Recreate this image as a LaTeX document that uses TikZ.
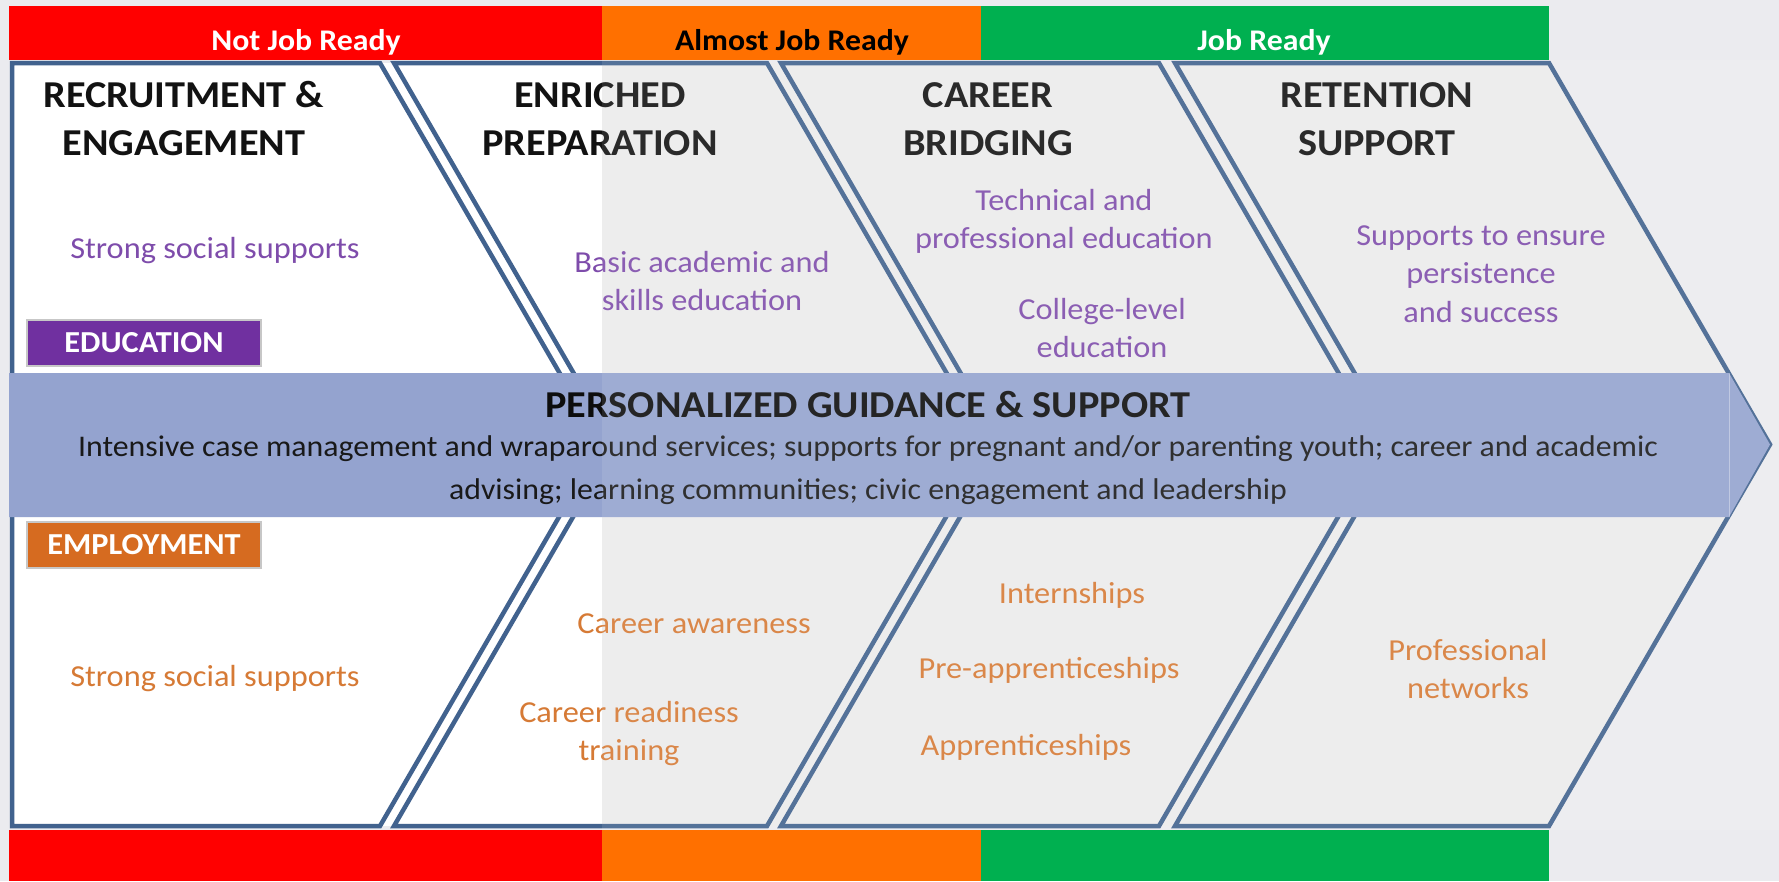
\documentclass[tikz,border=0pt]{standalone}
\usepackage{fontspec}
\setmainfont{Carlito}[FakeStretch=1.06]
\definecolor{chev}{HTML}{41628E}
\definecolor{barred}{HTML}{FF0000}
\definecolor{barorange}{HTML}{FF7000}
\definecolor{bargreen}{HTML}{00B050}
\definecolor{purpletxt}{HTML}{7E4CAB}
\definecolor{orangetxt}{HTML}{D67A35}
\definecolor{bandblue}{HTML}{94A3CF}
\definecolor{edufill}{HTML}{7030A0}
\definecolor{empfill}{HTML}{D66B20}
\definecolor{pagebg}{HTML}{EBEBEF}
\definecolor{chevbg}{HTML}{ECECEC}
\tikzset{
  chevline/.style={draw=chev, line width=4.5pt, line join=miter},
  bartxt/.style={anchor=base, font=\bfseries\fontsize{30}{36}\selectfont},
  headtxt/.style={anchor=base, text=black!93, font=\bfseries\fontsize{38}{48}\selectfont},
  edutxt/.style={anchor=base, text=purpletxt, font=\fontsize{30.5}{38}\selectfont},
  emptxt/.style={anchor=base, text=orangetxt, font=\fontsize{30.5}{38}\selectfont},
  bandtitle/.style={anchor=base, text=black!95, font=\bfseries\fontsize{38}{46}\selectfont},
  bandtxt/.style={anchor=base, text=black!90, font=\fontsize{30}{43}\selectfont},
  labbox/.style={draw=black!22, line width=1.5pt, text=white, inner sep=0pt,
    minimum width=234pt, minimum height=46pt, font=\bfseries\fontsize{30.5}{36}\selectfont}
}
\begin{document}
\begin{tikzpicture}[x=1pt,y=-1pt]
\useasboundingbox (0,0) rectangle (1779,881);
% page background
\fill[pagebg] (0,0) rectangle (1779,881);
% chevron area background
\fill[chevbg] (12,63) -- (1549,63) -- (1770,444.5) -- (1549,826) -- (12,826) -- cycle;
\fill[white] (12,63) rectangle (602,826);
% chevrons
\draw[chevline] (12,63) -- (380,63) -- (601,444.5) -- (380,826) -- (12,826) -- cycle;
\draw[chevline] (394,63) -- (767,63) -- (988,444.5) -- (767,826) -- (394,826) -- (615,444.5) -- cycle;
\draw[chevline] (781,63) -- (1159,63) -- (1380,444.5) -- (1159,826) -- (781,826) -- (1002,444.5) -- cycle;
\draw[chevline] (1175,63) -- (1549,63) -- (1770,444.5) -- (1549,826) -- (1175,826) -- (1396,444.5) -- cycle;
% band
\fill[bandblue] (9,373) -- (1729,373) -- (1770,444.5) -- (1729,517) -- (9,517) -- cycle;
\draw[white, opacity=0.35, line width=1pt] (1729,373) -- (1729,517);
% headings
\node[headtxt] (h1a) at (184,107) {RECRUITMENT \&};
\node[headtxt] (h1b) at (184,155) {ENGAGEMENT};
\node[headtxt] (h2a) at (600,107) {ENRICHED};
\node[headtxt] (h2b) at (600,155) {PREPARATION};
\node[headtxt] (h3a) at (988,107) {CAREER};
\node[headtxt] (h3b) at (988,155) {BRIDGING};
\node[headtxt] (h4a) at (1377,107) {RETENTION};
\node[headtxt] (h4b) at (1377,155) {SUPPORT};
% education texts
\node[edutxt] (e1) at (215,258) {Strong social supports};
\node[edutxt] (e2a) at (702,272) {Basic academic and};
\node[edutxt] (e2b) at (702,310) {skills education};
\node[edutxt] (e3a) at (1064,210) {Technical and};
\node[edutxt] (e3b) at (1064,248) {professional education};
\node[edutxt] (e3c) at (1102,319) {College-level};
\node[edutxt] (e3d) at (1102,357) {education};
\node[edutxt] (e4a) at (1481,245) {Supports to ensure};
\node[edutxt] (e4b) at (1481,283) {persistence};
\node[edutxt] (e4c) at (1481,322) {and success};
% employment texts
\node[emptxt] (m1) at (215,686) {Strong social supports};
\node[emptxt] (m2a) at (694,633) {Career awareness};
\node[emptxt] (m2b) at (629,722) {Career readiness};
\node[emptxt] (m2c) at (629,760) {training};
\node[emptxt] (m3a) at (1072,603) {Internships};
\node[emptxt] (m3b) at (1049,678) {Pre-apprenticeships};
\node[emptxt] (m3c) at (1026,755) {Apprenticeships};
\node[emptxt] (m4a) at (1468,660) {Professional};
\node[emptxt] (m4b) at (1468,698) {networks};
% label boxes
\node[labbox, fill=edufill] (edu) at (144,343) {EDUCATION};
\node[labbox, fill=empfill] (emp) at (144,545) {EMPLOYMENT};
% band text
\node[bandtitle] (bt) at (868,417) {PERSONALIZED GUIDANCE \& SUPPORT};
\node[bandtxt] (bl1) at (868,456) {Intensive case management and wraparound services; supports for pregnant and/or parenting youth; career and academic};
\node[bandtxt] (bl2) at (868,499) {advising; learning communities; civic engagement and leadership};
% light overlay on the right part
\fill[white, opacity=0.1] (602,60) rectangle (1779,830);
% top bar
\fill[barred] (9,6) rectangle (602,60);
\fill[barorange] (602,6) rectangle (981,60);
\fill[bargreen] (981,6) rectangle (1549,60);
\node[bartxt, text=white] (t1) at (306,50) {Not Job Ready};
\node[bartxt, text=black] (t2) at (792,50) {Almost Job Ready};
\node[bartxt, text=white] (t3) at (1264,50) {Job Ready};
% bottom bar
\fill[barred] (9,830) rectangle (602,881);
\fill[barorange] (602,830) rectangle (981,881);
\fill[bargreen] (981,830) rectangle (1549,881);
\end{tikzpicture}
\end{document}
